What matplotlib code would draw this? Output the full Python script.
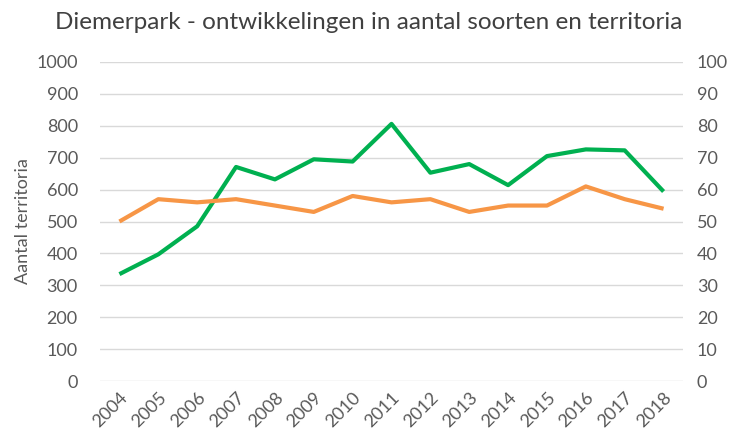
import matplotlib.pyplot as plt

# Diemerpark: territoria (links) en soorten (rechts)
jaren = [str(j) for j in range(2004, 2019)]
territoria = [335, 397, 485, 671, 632, 695, 688, 806, 653, 680, 614, 705, 726, 723, 594]
soorten = [50, 57, 56, 57, 55, 53, 58, 56, 57, 53, 55, 55, 61, 57, 54]

links_ticks = list(range(0, 1001, 100))
rechts_ticks = list(range(0, 101, 10))

plt.rcParams['font.family'] = ['Lato', 'DejaVu Sans']
tekstkleur = '#595959'

fig = plt.figure(figsize=(7.38, 4.41), dpi=100)
ax = fig.add_axes([100 / 738, 1 - 381 / 441, 583 / 738, 319 / 441])
ax2 = ax.twinx()

x = range(len(jaren))
ax.plot(x, territoria, color='#00b050', linewidth=3, solid_capstyle='butt', zorder=3)
ax2.plot(x, soorten, color='#f79646', linewidth=3, solid_capstyle='butt', zorder=3)

ax.set_xlim(-0.5, len(jaren) - 0.5)
ax.set_ylim(0, 1000)
ax2.set_ylim(0, 100)
ax.set_yticks(links_ticks)
ax2.set_yticks(rechts_ticks)
ax.set_xticks(list(x))
ax.set_xticklabels(jaren, rotation=45, ha='right', rotation_mode='anchor')

ax.grid(axis='y', color='#d9d9d9', linewidth=1)
ax.set_axisbelow(True)
for a in (ax, ax2):
    for s in a.spines.values():
        s.set_visible(False)
    a.tick_params(length=0, colors=tekstkleur, labelsize=13)
ax.tick_params(axis='y', pad=16)
ax2.tick_params(axis='y', pad=10)
ax.tick_params(axis='x', pad=6)

ax.set_ylabel('Aantal territoria', color=tekstkleur, fontsize=13, labelpad=4)
fig.suptitle('Diemerpark - ontwikkelingen in aantal soorten en territoria',
             color='#404040', fontsize=17.5, y=0.972)

fig.savefig('out.png', dpi=100)
